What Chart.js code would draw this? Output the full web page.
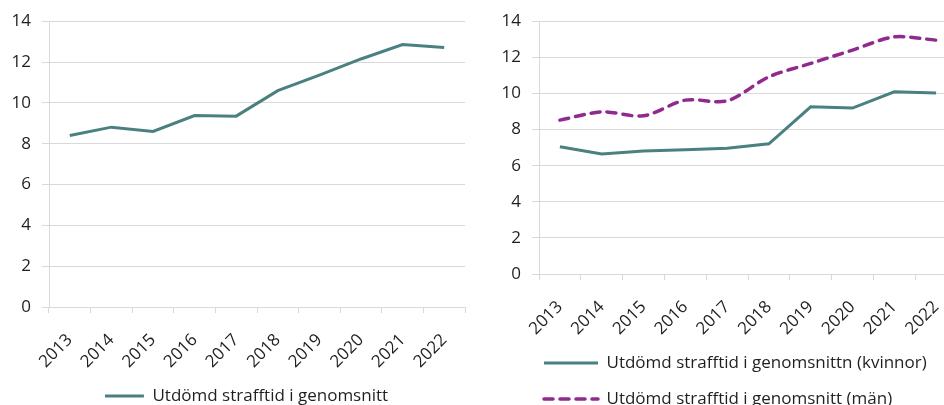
<!DOCTYPE html>
<html>
<head>
<meta charset="utf-8">
<script src="https://cdn.jsdelivr.net/npm/chart.js@4"></script>
<style>
  html, body { margin: 0; padding: 0; background: #fff; overflow: hidden; width: 944px; height: 405px; }
  #left { position: absolute; left: 0; top: 0; }
  #right { position: absolute; left: 480px; top: 0; }
</style>
</head>
<body>
<canvas id="left" width="480" height="420"></canvas>
<canvas id="right" width="500" height="420"></canvas>
<script>
// data
const years = ['2013', '2014', '2015', '2016', '2017', '2018', '2019', '2020', '2021', '2022'];
const totalAvg = [8.40, 8.81, 8.60, 9.38, 9.35, 10.60, 11.36, 12.15, 12.86, 12.71];
const womenAvg = [7.05, 6.64, 6.81, 6.88, 6.97, 7.21, 9.26, 9.19, 10.09, 10.02];
const menAvg = [8.52, 8.98, 8.76, 9.63, 9.59, 10.92, 11.66, 12.40, 13.13, 12.95];
const yMax = 14;
const yStep = 2;

const TEAL = '#4b8080';
const PURPLE = '#902a8f';
const GRID = '#d9d9d9';
const TEXT = '#1f1f1f';
const font = { family: "'Open Sans', sans-serif", size: 17 };

// nudge the legend sideways without touching the plot area
const shiftLegend = {
  id: 'shiftLegend',
  afterLayout(chart, args, opts) {
    if (!chart.legend || !opts.dx) return;
    chart.legend.left += opts.dx;
    chart.legend.right += opts.dx;
  }
};

function scales(yWidth, xHeight) {
  return {
    x: {
      offset: true,
      grid: { offset: true, drawOnChartArea: false, tickLength: 6, tickColor: GRID },
      border: { color: GRID },
      ticks: { minRotation: 45, maxRotation: 45, autoSkip: false, color: TEXT, font: font, padding: 17 },
      afterFit: s => { s.height = xHeight; }
    },
    y: {
      min: 0,
      max: yMax,
      grid: { color: GRID, tickLength: 7 },
      border: { color: GRID },
      ticks: { stepSize: yStep, color: TEXT, font: font, padding: 11 },
      afterFit: s => { s.width = yWidth; }
    }
  };
}

function legend(align, padding, boxW) {
  return {
    position: 'bottom',
    align: align,
    labels: {
      usePointStyle: true,
      pointStyle: 'line',
      pointStyleWidth: boxW,
      padding: padding,
      color: TEXT,
      font: font,
      // point-style items lose the dataset dash, put it back
      generateLabels(chart) {
        const items = Chart.defaults.plugins.legend.labels.generateLabels(chart);
        items.forEach(item => {
          const ds = chart.data.datasets[item.datasetIndex];
          item.lineDash = ds.borderDash || [];
          item.lineCap = ds.borderCapStyle || 'butt';
          item.lineWidth = ds.borderWidth;
        });
        return items;
      }
    }
  };
}

/* ── Left: overall average ── */
new Chart(document.getElementById('left'), {
  type: 'line',
  data: {
    labels: years,
    datasets: [{
      label: 'Utdömd strafftid i genomsnitt',
      data: totalAvg,
      borderColor: TEAL,
      backgroundColor: TEAL,
      borderWidth: 3,
      pointRadius: 0,
      tension: 0
    }]
  },
  options: {
    responsive: false,
    animation: false,
    layout: { padding: { left: 0, right: 15, top: 21, bottom: 5.5 } },
    scales: scales(49, 70.5),
    plugins: {
      legend: legend('center', 10, 39),
      tooltip: { enabled: false },
      shiftLegend: { dx: 14 }
    }
  },
  plugins: [shiftLegend]
});

/* ── Right: women vs men ── */
new Chart(document.getElementById('right'), {
  type: 'line',
  data: {
    labels: years,
    datasets: [{
      label: 'Utdömd strafftid i genomsnittn (kvinnor)',
      data: womenAvg,
      borderColor: TEAL,
      backgroundColor: TEAL,
      borderWidth: 3,
      pointRadius: 0,
      tension: 0
    }, {
      label: 'Utdömd strafftid i genomsnitt (män)',
      data: menAvg,
      borderColor: PURPLE,
      backgroundColor: PURPLE,
      borderWidth: 3.5,
      borderDash: [9, 7],
      borderCapStyle: 'round',
      pointRadius: 0,
      tension: 0.3
    }]
  },
  options: {
    responsive: false,
    animation: false,
    layout: { padding: { left: 0, right: 23, top: 21, bottom: 2.5 } },
    scales: scales(59, 61.5),
    plugins: {
      legend: legend('start', 19, 54),
      tooltip: { enabled: false },
      shiftLegend: { dx: 45 }
    }
  },
  plugins: [shiftLegend]
});
</script>
</body>
</html>
